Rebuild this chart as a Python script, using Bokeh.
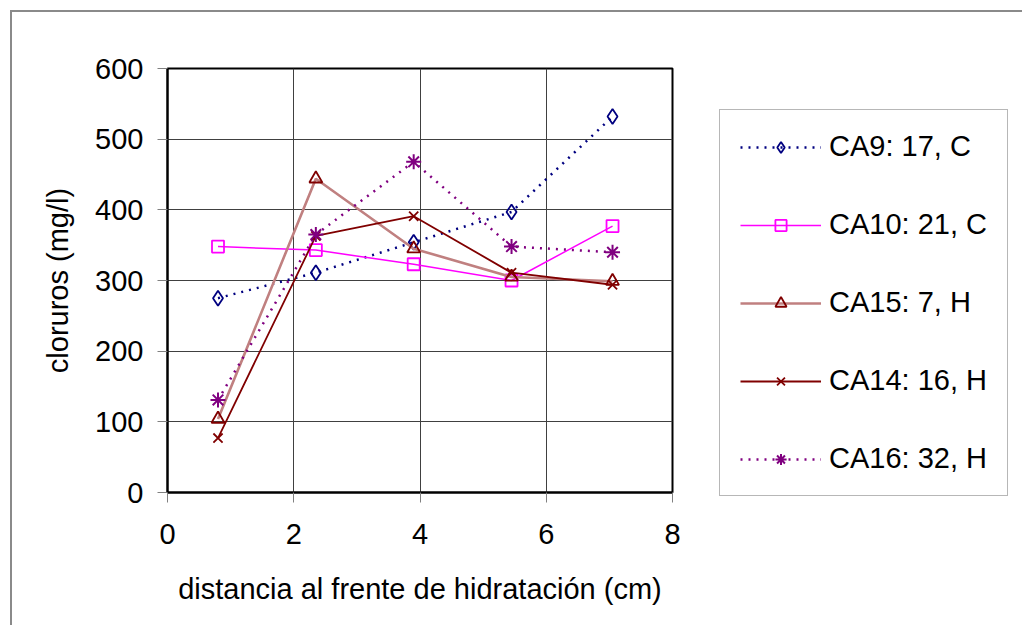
from bokeh.plotting import figure
from bokeh.models import Range1d, Legend, LegendItem, FixedTicker, InlineStyleSheet
from bokeh.embed import file_html
from bokeh.resources import INLINE

# Data (distance in cm, chlorides in mg/l)
x_dist = [0.8, 2.35, 3.9, 5.45, 7.05]
ca9 = [275, 311, 354, 397, 532]
ca10 = [348, 343, 323, 300, 377]
ca15 = [104, 444, 345, 305, 299]
ca14 = [77, 363, 391, 311, 294]
ca16 = [131, 365, 468, 348, 340]

labels = ["CA9: 17, C", "CA10: 21, C", "CA15: 7, H", "CA14: 16, H", "CA16: 32, H"]
x_ticks = [0, 2, 4, 6, 8]
y_ticks = [0, 100, 200, 300, 400, 500, 600]

FONT = "Liberation Sans"
FS = "29px"

border_css = InlineStyleSheet(css="""
:host::after {
  content: "";
  position: absolute;
  left: 10px; top: 10px; right: 0px; bottom: 0px;
  border-left: 2px solid #8a8a8a;
  border-top: 2px solid #8a8a8a;
  pointer-events: none;
}
""")

p = figure(width=1022, height=625, output_backend="svg", toolbar_location=None,
           x_range=Range1d(0, 8), y_range=Range1d(0, 600),
           min_border_left=167, min_border_right=350, min_border_top=68, min_border_bottom=133,
           frame_width=505, frame_height=424, stylesheets=[border_css])
p.background_fill_color = "white"
p.border_fill_color = "white"
p.outline_line_color = "black"
p.outline_line_width = 2

for ax in (p.xaxis[0], p.yaxis[0]):
    ax.axis_line_color = "black"
    ax.axis_line_width = 2
    ax.major_tick_line_color = "#808080"
    ax.major_tick_out = 10
    ax.major_tick_in = 0
    ax.minor_tick_line_color = None
    ax.major_label_text_font = FONT
    ax.major_label_text_font_size = FS
    ax.major_label_text_color = "black"
    ax.axis_label_text_font = FONT
    ax.axis_label_text_font_size = FS
    ax.axis_label_text_font_style = "normal"
    ax.axis_label_text_color = "black"

p.xaxis[0].ticker = FixedTicker(ticks=x_ticks)
p.yaxis[0].ticker = FixedTicker(ticks=y_ticks)
p.xaxis[0].axis_label = "distancia al frente de hidratación (cm)"
p.yaxis[0].axis_label = "cloruros (mg/l)"
p.xaxis[0].major_label_standoff = 21
p.yaxis[0].major_label_standoff = 14
p.xaxis[0].axis_label_standoff = 26
p.yaxis[0].axis_label_standoff = 18

p.xgrid.ticker = FixedTicker(ticks=x_ticks)
p.ygrid.ticker = FixedTicker(ticks=y_ticks)
for g in (p.xgrid[0], p.ygrid[0]):
    g.grid_line_color = "#404040"
    g.grid_line_width = 1

r9l = p.line(x_dist, ca9, line_color="#000080", line_width=2.5, line_dash="2 6")
r9m = p.scatter(x_dist, ca9, marker="diamond", size=15,
                line_color="#000080", line_width=1.8, fill_color=None)

r10l = p.line(x_dist, ca10, line_color="#FF00FF", line_width=1.5)
r10m = p.scatter(x_dist, ca10, marker="square", size=12,
                 line_color="#FF00FF", line_width=1.8, fill_color=None)

r15l = p.line(x_dist, ca15, line_color="#C08080", line_width=2.6)
r15m = p.scatter(x_dist, ca15, marker="triangle", size=13,
                 line_color="#800000", line_width=1.8, fill_color=None)

r14l = p.line(x_dist, ca14, line_color="#800000", line_width=1.8)
r14m = p.scatter(x_dist, ca14, marker="x", size=13,
                 line_color="#800000", line_width=1.8)

r16l = p.line(x_dist, ca16, line_color="#800080", line_width=2.5, line_dash="2 6")
r16m = p.scatter(x_dist, ca16, marker="asterisk", size=15,
                 line_color="#800080", line_width=2)

legend = Legend(items=[
    LegendItem(label=labels[0], renderers=[r9l, r9m]),
    LegendItem(label=labels[1], renderers=[r10l, r10m]),
    LegendItem(label=labels[2], renderers=[r15l, r15m]),
    LegendItem(label=labels[3], renderers=[r14l, r14m]),
    LegendItem(label=labels[4], renderers=[r16l, r16m]),
], location=(47, -4))
legend.label_text_font = FONT
legend.label_text_font_size = FS
legend.label_text_color = "black"
legend.glyph_width = 81
legend.glyph_height = 28
legend.label_height = 28
legend.label_standoff = 8
legend.spacing = 45
legend.padding = 20
legend.margin = 0
legend.border_line_color = "#707070"
legend.border_line_width = 1.5
legend.background_fill_color = "white"
legend.background_fill_alpha = 1
p.add_layout(legend, "right")

open("out.html", "w").write(file_html(p, INLINE))
